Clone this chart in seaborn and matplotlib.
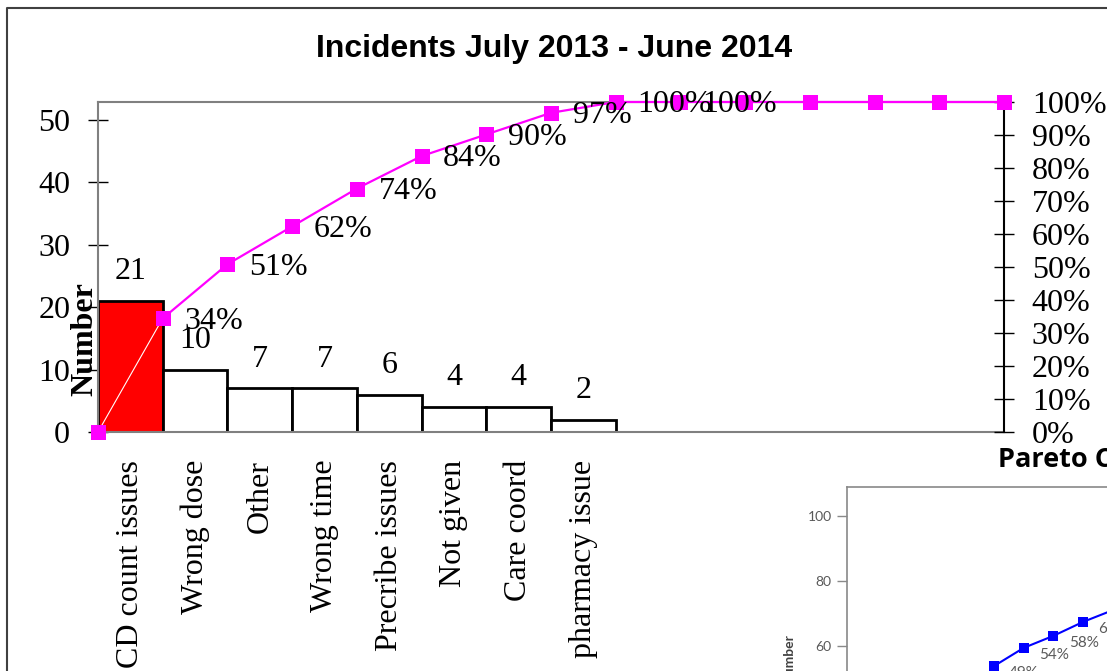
import numpy as np
import pandas as pd
import matplotlib
matplotlib.use("Agg")
import matplotlib.pyplot as plt
import seaborn as sns

# data
categories = ["CD count issues", "Wrong dose", "Other", "Wrong time",
              "Precribe issues", "Not given", "Care coord", "pharmacy issue"]
counts = [21, 10, 7, 7, 6, 4, 4, 2]
# six more (empty) category slots on the axis, no incidents in them
empty_counts = [0, 0, 0, 0, 0, 0]
bar_colors = ["#FF0000", "white", "white", "white", "white", "white", "white", "white"]
n_pct_labels = 9

# embedded second chart (only partly visible)
inset_vals = [53.8, 59.4, 63.1, 67.4, 71.0]
inset_labels = ["49%", "54%", "58%", "62%", "66%"]

sns.set_style("white")
plt.rcParams['font.family'] = ['Liberation Serif', 'DejaVu Serif']
plt.rcParams['text.color'] = 'black'
plt.rcParams['xtick.color'] = 'black'
plt.rcParams['ytick.color'] = 'black'

FS = 23
W, H = 1107, 671
fig = plt.figure(figsize=(W / 100, H / 100), dpi=100)


def px_box(l, t, r, b):
    return [l / W, 1 - b / H, (r - l) / W, (b - t) / H]


ax = fig.add_axes(px_box(98, 102, 1004, 432))

df = pd.DataFrame({"cat": categories, "n": counts})
sns.barplot(data=df, x="cat", y="n", hue="cat", palette=bar_colors, legend=False,
            width=1.0, edgecolor="black", linewidth=2, saturation=1, ax=ax)

n_slots = len(counts) + len(empty_counts)
ax.set_xlim(-0.5, n_slots - 0.5)
ax.set_ylim(0, 52.9)
ax.set_yticks([0, 10, 20, 30, 40, 50])
ax.set_xticks(range(len(categories)))
ax.set_xticklabels(categories, rotation=90, va="top", ha="center")
ax.set_xlabel("")
ax.set_ylabel("")
ax.tick_params(axis="x", length=0, pad=20, labelsize=FS)
ax.tick_params(axis="y", direction="inout", length=13.7, width=1, color="black",
               pad=13.2, labelsize=FS, left=True)
for s in ["left", "top", "bottom"]:
    ax.spines[s].set_color("#808080")
    ax.spines[s].set_linewidth(1.5)
ax.spines["right"].set_visible(False)

# value labels above bars
for i, v in enumerate(counts):
    ax.annotate(str(v), (i, v), xytext=(0, 21), textcoords="offset points",
                ha="center", va="center", fontsize=FS)

# cumulative percentage line on the right axis
all_counts = np.array(counts + empty_counts)
cum_pct = np.concatenate([[0], np.cumsum(all_counts) / all_counts.sum() * 100])
edges = np.arange(n_slots + 1) - 0.5

ax2 = ax.twinx()
ax2.set_ylim(0, 100)
ax2.plot(edges[:2], cum_pct[:2], color="white", lw=0.8, zorder=3)
sns.lineplot(x=edges[1:], y=cum_pct[1:], color="#FF00FF", lw=1.6, marker="s",
             markersize=10.8, markeredgewidth=0, ax=ax2, zorder=4)
ax2.plot(edges[0], cum_pct[0], marker="s", color="#FF00FF", markersize=10.8,
         markeredgewidth=0, zorder=5, clip_on=False)
ax2.plot(edges[1], cum_pct[1], marker="s", color="#FF00FF", markersize=6.5,
         markeredgewidth=0, zorder=5)
for i in range(1, n_pct_labels + 1):
    ax2.annotate(f"{cum_pct[i]:.0f}%", (edges[i], cum_pct[i]), xytext=(15.5, -2),
                 textcoords="offset points", ha="left", va="center", fontsize=FS,
                 zorder=6, annotation_clip=False)
ax2.set_yticks(np.arange(0, 101, 10))
ax2.set_yticklabels([f"{t}%" for t in range(0, 101, 10)])
ax2.tick_params(axis="y", direction="inout", length=13.7, width=1, color="black",
                pad=13.2, labelsize=FS, right=True)
for s in ["left", "top", "bottom"]:
    ax2.spines[s].set_visible(False)
ax2.spines["right"].set_color("black")
ax2.spines["right"].set_linewidth(1.5)
ax2.set_ylabel("")
for ln in ax2.lines:
    ln.set_clip_on(False)

fig.text(85 / W, 1 - 339 / H, "Number", rotation=90, ha="center", va="center",
         fontsize=FS, fontweight="bold")

fig.text(554 / W, 1 - 49 / H, "Incidents July 2013 - June 2014", ha="center",
         va="center", fontsize=23, fontweight="bold", family=["Liberation Sans"])

# outer frame of the chart object
fig.add_artist(plt.Line2D([7 / W, 7 / W, 1.0], [0.0, 1 - 8 / H, 1 - 8 / H],
                          transform=fig.transFigure, color="#404040", lw=1.5))

# second, overlapping chart in the lower right corner
axi = fig.add_axes(px_box(847, 487, 1400, 850))
ix = np.arange(len(inset_vals))
sns.lineplot(x=ix, y=inset_vals, color="#0000FF", lw=1.5, marker="s",
             markersize=7, markeredgewidth=0, ax=axi)
axi.set_xlim(-147 / 29.7, (1400 - 994) / 29.7)
axi.set_ylim(-2.8, 108.9)
axi.set_yticks([20, 40, 60, 80, 100])
axi.set_xticks([])
axi.tick_params(axis="y", direction="out", length=7, width=1, color="#898989",
                labelcolor="#595959", labelsize=10, pad=4, left=True)
for tl in axi.get_yticklabels():
    tl.set_family(["Lato", "DejaVu Sans"])
for s in axi.spines.values():
    s.set_color("#898989")
    s.set_linewidth(1.2)
for x, v, lab in zip(ix, inset_vals, inset_labels):
    axi.annotate(lab, (x, v), xytext=(11, -5), textcoords="offset points",
                 ha="left", va="center", fontsize=11, color="#595959",
                 family=["Lato", "DejaVu Sans"])
axi.set_xlabel("")
axi.set_ylabel("")

fig.text(998 / W, 1 - 460 / H, "Pareto Chart", ha="left", va="center", fontsize=19.5,
         fontweight="bold", family=["Open Sans", "DejaVu Sans"])
fig.text(789 / W, 1 - 633 / H, "Number", rotation=90, ha="center", va="top",
         fontsize=10, fontweight="bold", color="#404040", family=["Lato", "DejaVu Sans"])

fig.savefig("out.png", dpi=100)
